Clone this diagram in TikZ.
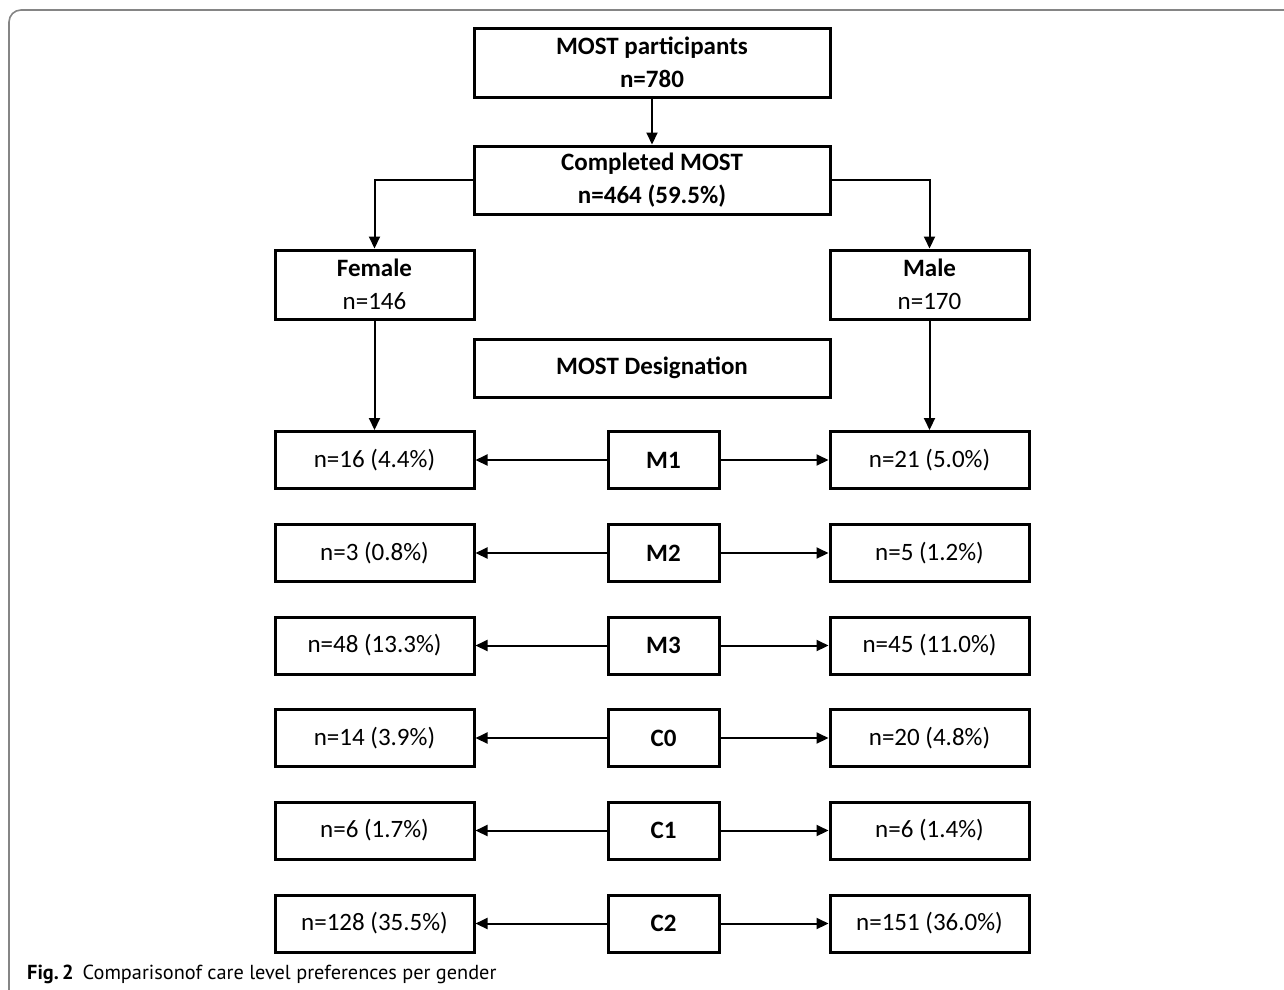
\documentclass[tikz,border=0pt]{standalone}
\usepackage{fontspec}
\setmainfont{Carlito}
\newfontfamily\capfont{PT Sans}
\usetikzlibrary{arrows.meta}
\begin{document}
\begin{tikzpicture}[x=1pt,y=-1pt,
  box/.style={draw=black,line width=3pt,rectangle,inner sep=0pt,align=center,
    font=\fontsize{25}{33}\selectfont},
  wide/.style={box,minimum width=356pt},
  side/.style={box,minimum width=199pt,minimum height=57pt},
  mid/.style={box,minimum width=111pt,minimum height=57pt,font=\fontsize{25}{33}\selectfont\bfseries},
  arr/.style={line width=2pt,-{Triangle[length=12pt,width=11pt]}}]
\useasboundingbox (0,0) rectangle (1284,989);
\draw[line width=1.6pt,color=black!48] (9,1000) -- (9,22) arc[start angle=180,end angle=270,radius=12] -- (1300,10);
% top boxes
\node[wide,minimum height=69pt] (top) at (652,62.5) {\bfseries MOST participants\\\bfseries n=780};
\node[wide,minimum height=68pt] (comp) at (652,180) {\bfseries Completed MOST\\\bfseries n=464 (59.5\%)};
\node[side,minimum height=69pt] (fem) at (374.5,284.5) {\bfseries Female\\n=146};
\node[side,minimum height=69pt] (male) at (929.5,284.5) {\bfseries Male\\n=170};
\node[wide,minimum height=58pt,font=\fontsize{25}{33}\selectfont\bfseries] (des) at (652,368) {MOST Designation};
% rows
\node[side] (l1) at (374.5,460) {n=16 (4.4\%)};
\node[mid]  (m1) at (663.5,460) {M1};
\node[side] (r1) at (929.5,460) {n=21 (5.0\%)};
\node[side] (l2) at (374.5,553) {n=3 (0.8\%)};
\node[mid]  (m2) at (663.5,553) {M2};
\node[side] (r2) at (929.5,553) {n=5 (1.2\%)};
\node[side] (l3) at (374.5,645.5) {n=48 (13.3\%)};
\node[mid]  (m3) at (663.5,645.5) {M3};
\node[side] (r3) at (929.5,645.5) {n=45 (11.0\%)};
\node[side] (l4) at (374.5,738) {n=14 (3.9\%)};
\node[mid]  (m4) at (663.5,738) {C0};
\node[side] (r4) at (929.5,738) {n=20 (4.8\%)};
\node[side] (l5) at (374.5,830.5) {n=6 (1.7\%)};
\node[mid]  (m5) at (663.5,830.5) {C1};
\node[side] (r5) at (929.5,830.5) {n=6 (1.4\%)};
\node[side] (l6) at (374.5,923.5) {n=128 (35.5\%)};
\node[mid]  (m6) at (663.5,923.5) {C2};
\node[side] (r6) at (929.5,923.5) {n=151 (36.0\%)};
% connectors
\draw[arr] (top) -- (comp);
\draw[arr] (comp.west) -| (fem.north);
\draw[arr] (comp.east) -| (male.north);
\draw[arr] (fem) -- (l1);
\draw[arr] (male) -- (r1);
\foreach \i in {1,...,6}{
  \draw[arr] (m\i) -- (l\i);
  \draw[arr] (m\i) -- (r\i);
}
% caption
\node[anchor=base west,inner sep=0pt,font=\capfont\fontsize{20.3}{24}\selectfont] (cap) at (27,979)
  {\textbf{Fig.\,2}\hspace{9pt}Comparisonof care level preferences per gender};
\end{tikzpicture}
\end{document}
